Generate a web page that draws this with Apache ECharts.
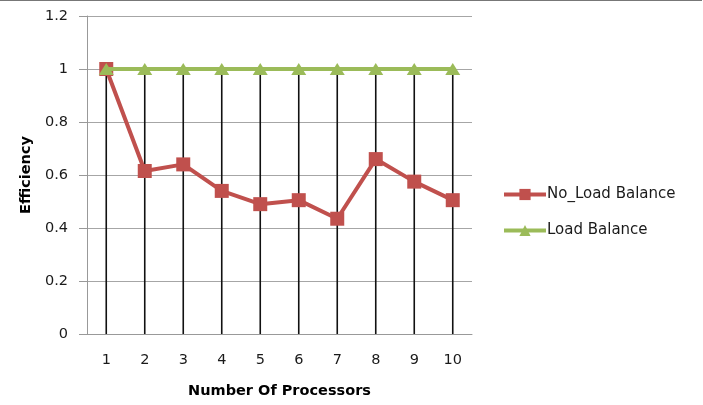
<!DOCTYPE html>
<html><head><meta charset="utf-8">
<script src="https://cdn.jsdelivr.net/npm/echarts@6/dist/echarts.min.js"></script>
<style>html,body{margin:0;padding:0;background:#fff}#c{width:703px;height:405px}</style>
</head><body><div id="c"></div>
<script>
const categories = ['1','2','3','4','5','6','7','8','9','10'];
const noLoadBalance = [1, 0.615, 0.64, 0.54, 0.49, 0.505, 0.435, 0.66, 0.575, 0.505];
const loadBalance = [1, 1, 1, 1, 1, 1, 1, 1, 1, 1];
const yTicks = [0, 0.2, 0.4, 0.6, 0.8, 1, 1.2];
const dropLines = categories.map((c, i) => Math.max(noLoadBalance[i], loadBalance[i]));

const font = 'DejaVu Sans';
const chart = echarts.init(document.getElementById('c'), null, {renderer: 'canvas'});
chart.setOption({
  animation: false,
  backgroundColor: '#fff',
  graphic: [{type: 'line', shape: {x1: 0, y1: 0.5, x2: 702, y2: 0.5}, style: {stroke: '#777', lineWidth: 1}}],
  grid: {left: 87, right: 231, top: 16, bottom: 71, containLabel: false},
  legend: {
    orient: 'vertical', left: 497, top: 182, itemWidth: 42, itemHeight: 14, itemGap: 21,
    data: ['No_Load Balance', 'Load Balance'],
    lineStyle: {width: 4},
    textStyle: {fontFamily: font, fontSize: 15, color: '#1a1a1a', padding: [0, 0, 0, -4]}
  },
  xAxis: {
    type: 'category', data: categories, boundaryGap: true,
    name: 'Number Of Processors', nameLocation: 'middle', nameGap: 50,
    nameTextStyle: {fontFamily: font, fontSize: 14.5, fontWeight: 'bold', color: '#000'},
    axisLine: {lineStyle: {color: '#999', width: 1}},
    axisTick: {show: false},
    axisLabel: {fontFamily: font, fontSize: 14.5, color: '#1a1a1a', margin: 19},
    splitLine: {show: false}
  },
  yAxis: {
    type: 'value', min: 0, max: 1.2, interval: 0.2,
    name: 'Efficiency', nameLocation: 'middle', nameGap: 52,
    nameTextStyle: {fontFamily: font, fontSize: 14.5, fontWeight: 'bold', color: '#000'},
    axisLine: {show: true, lineStyle: {color: '#999', width: 1}},
    axisTick: {show: true, length: 8, inside: false, lineStyle: {color: '#999'}},
    axisLabel: {fontFamily: font, fontSize: 14.5, color: '#1a1a1a', margin: 19,
      formatter: v => { const t = yTicks.find(x => Math.abs(x - v) < 1e-9); return String(+(t ?? v).toFixed(1)); }},
    splitLine: {show: true, lineStyle: {color: '#a6a6a6', width: 1}}
  },
  series: [
    {
      name: 'drop', type: 'bar', data: dropLines, barWidth: 1.6, silent: true,
      itemStyle: {color: '#111'}, legendHoverLink: false, z: 1
    },
    {
      name: 'No_Load Balance', type: 'line', data: noLoadBalance,
      symbol: 'rect', symbolSize: 14, z: 3,
      lineStyle: {color: '#c0504d', width: 4},
      itemStyle: {color: '#c0504d'}
    },
    {
      name: 'Load Balance', type: 'line', data: loadBalance,
      symbol: 'triangle', symbolSize: [15, 12], z: 4,
      lineStyle: {color: '#9bbb59', width: 4},
      itemStyle: {color: '#9bbb59'}
    }
  ]
});
</script></body></html>
